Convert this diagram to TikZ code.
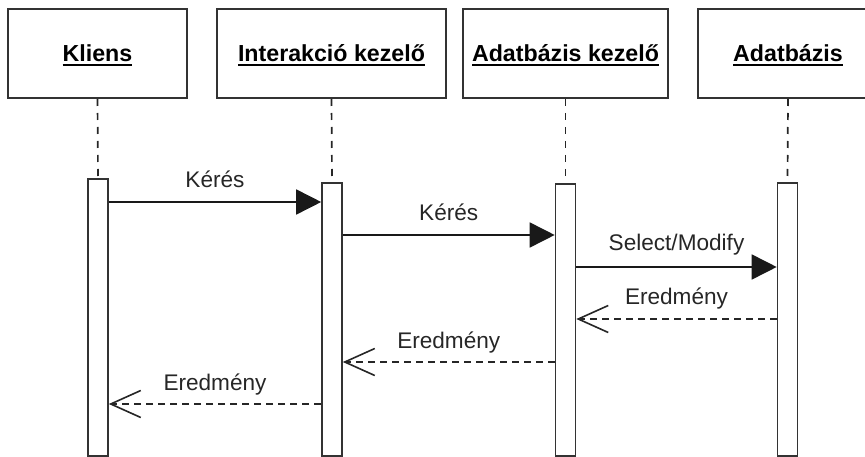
\documentclass[tikz,border=0pt]{standalone}
\usepackage{fontspec}
\setmainfont{Liberation Sans}
\usetikzlibrary{arrows.meta}

% underlined object name
\newcommand\objname[1]{\setbox0\hbox{\bfseries #1}\rlap{\rule[-3.6pt]{\wd0}{1.8pt}}\box0}

\begin{document}
\begin{tikzpicture}[x=1pt,y=-1pt,
  objbox/.style={draw=black!80, line width=2pt, minimum height=89pt,
    inner sep=0pt, font=\fontsize{23.2}{27}\selectfont,
    text height=17pt, text depth=0pt},
  actbar/.style={draw=black!80, fill=white, line width=1.6pt,
    minimum width=20pt, inner sep=0pt, anchor=north},
  lifeline/.style={draw=black!85, line width=1.7pt, dash pattern=on 7pt off 7pt},
  callmsg/.style={draw=black!90, line width=1.6pt,
    -{Triangle[length=25pt,width=25pt]}},
  replymsg/.style={draw=black!85, line width=1.6pt, dash pattern=on 7pt off 5pt,
    -{Straight Barb[length=30pt,width=27pt]}},
  msglabel/.style={midway, anchor=base, yshift=14pt, inner sep=0pt,
    font=\fontsize{22.6}{26}\selectfont, text=black!85}]

\useasboundingbox (0,0) rectangle (865,457);
\clip (0,0) rectangle (865,457);

% participants
\node[objbox, minimum width=179pt] (kl) at (97.5,53.5) {\objname{Kliens}};
\node[objbox, minimum width=229pt] (ik) at (331.5,53.5) {\objname{Interakció kezelő}};
\node[objbox, minimum width=205pt] (ak) at (565.5,53.5) {\objname{Adatbázis kezelő}};
\node[objbox, minimum width=180pt] (ab) at (788,53.5) {\objname{Adatbázis}};

% activation bars
\node[actbar, minimum height=277pt] (klb) at (98,178) {};
\node[actbar, minimum height=273pt] (ikb) at (332,182) {};
\node[actbar, minimum height=272pt] (akb) at (565.5,183) {};
\node[actbar, minimum height=273pt] (abb) at (787.5,182) {};

% lifelines
\draw[lifeline] (kl.south) -- (klb.north);
\draw[lifeline] (ik.south) -- (ikb.north);
\draw[lifeline] (ak.south) -- (akb.north);
\draw[lifeline] (ab.south) -- (abb.north);

% message rows
\coordinate (r1) at (0,202);
\coordinate (r2) at (0,235);
\coordinate (r3) at (0,267);
\coordinate (r4) at (0,319);
\coordinate (r5) at (0,362);
\coordinate (r6) at (0,404);

% messages
\draw[callmsg] (klb.east |- r1) -- node[msglabel] {Kérés} (ikb.west |- r1);
\draw[callmsg] (ikb.east |- r2) -- node[msglabel] {Kérés} (akb.west |- r2);
\draw[callmsg] (akb.east |- r3) -- node[msglabel, yshift=2pt] {Select/Modify} (abb.west |- r3);
\draw[replymsg] (abb.west |- r4) -- node[msglabel] {Eredmény} (akb.east |- r4);
\draw[replymsg] (akb.west |- r5) -- node[msglabel] {Eredmény} (ikb.east |- r5);
\draw[replymsg] (ikb.west |- r6) -- node[msglabel] {Eredmény} (klb.east |- r6);

\end{tikzpicture}
\end{document}
